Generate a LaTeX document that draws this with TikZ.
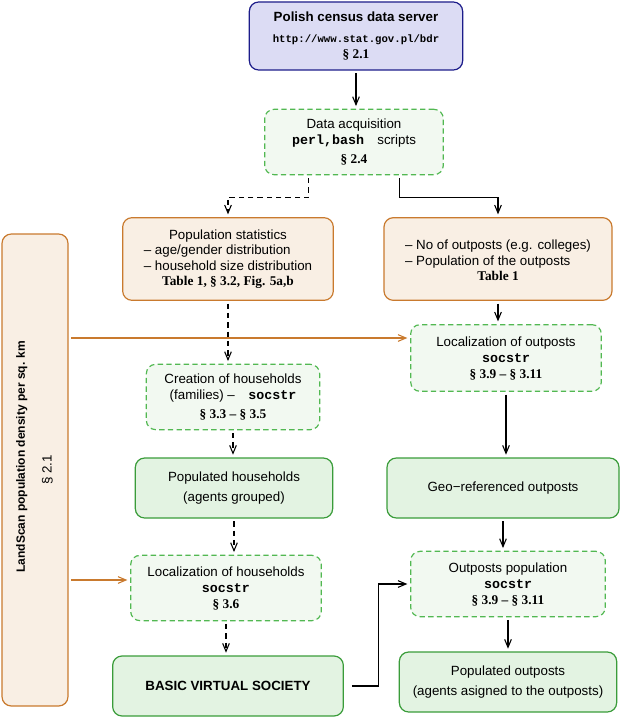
\documentclass[tikz,border=0pt]{standalone}
\usepackage{fontspec}
\usetikzlibrary{arrows.meta}
\setmainfont{Liberation Sans}
\setmonofont{Liberation Mono}
\newfontfamily\timesfont{Liberation Serif}
\newcommand{\secref}[1]{{\timesfont\bfseries #1}}
\definecolor{servfill}{HTML}{DCDCF4}
\definecolor{servline}{HTML}{1C1C8A}
\definecolor{datafill}{HTML}{F9EFE4}
\definecolor{dataline}{HTML}{C97A2E}
\definecolor{procfill}{HTML}{F2F9F1}
\definecolor{procline}{HTML}{52B852}
\definecolor{resfill}{HTML}{E3F3E2}
\definecolor{resline}{HTML}{3A9C3A}
\begin{document}
\begin{tikzpicture}[>={Straight Barb[length=6pt, width=5pt]}, x=0.75pt, y=-0.75pt,
		box/.style={rounded corners=7pt, line width=0.9pt, align=center, inner sep=2pt},
		server/.style={box, draw=servline, fill=servfill},
		datasrc/.style={box, draw=dataline, fill=datafill},
		procbox/.style={box, draw=procline, fill=procfill, dash pattern=on 4pt off 2.5pt},
		resbox/.style={box, draw=resline, fill=resfill},
		flow/.style={->, line width=0.8pt, shorten <=2pt, shorten >=2pt},
		dflow/.style={flow, dash pattern=on 4pt off 3pt},
		lflow/.style={flow, draw=dataline}]
		\useasboundingbox (0,0) rectangle (620,717);
		% sources
		\node[server, minimum width=160pt, minimum height=51pt] (server) at (356,36) {\textbf{Polish census data server}\\[4pt] {\footnotesize\ttfamily\bfseries http://www.stat.gov.pl/bdr}\\ \secref{§ 2.1}};
		\node[procbox, minimum width=134pt, minimum height=49pt] (acq) at (354,142) {Data acquisition\\ \texttt{\bfseries perl,bash}\quad scripts\\[2pt] \secref{§ 2.4}};
		\node[datasrc, minimum width=158pt, minimum height=62pt] (popstat) at (228,259) {Population statistics\\ \begin{tabular}{@{}l@{}}– age/gender distribution\\ – household size distribution\end{tabular}\\ \secref{Table 1, § 3.2, Fig. 5a,b}};
		\node[datasrc, minimum width=171pt, minimum height=62pt] (outstat) at (498,259) {\mbox{}\\ \begin{tabular}{@{}l@{}}– No of outposts (e.g. colleges)\\ – Population of the outposts\end{tabular}\\ \secref{Table 1}};
		\node[datasrc, minimum width=49.5pt, minimum height=354pt] (land) at (35,470) {\rotatebox{90}{\begin{tabular}{@{}c@{}}\hspace*{20pt}{\small\bfseries LandScan population density per sq. km}\\[8pt] § 2.1\end{tabular}}};
		% households
		\node[procbox, minimum width=130pt, minimum height=49pt] (create) at (233,397) {Creation of households\\ (families) –\quad\texttt{\bfseries socstr}\\[2pt] \secref{§ 3.3 – § 3.5}};
		\node[resbox, minimum width=148pt, minimum height=45pt] (pophh) at (234,488) {Populated households\\[3pt] (agents grouped)};
		\node[procbox, minimum width=143pt, minimum height=49pt] (lochh) at (226,588) {Localization of households\\ \texttt{\bfseries socstr}\\ \secref{§ 3.6}};
		\node[resbox, minimum width=173pt, minimum height=45pt] (bvs) at (228,686) {\textbf{BASIC VIRTUAL SOCIETY}};
		% outposts
		\node[procbox, minimum width=143pt, minimum height=50pt] (locout) at (506,358) {Localization of outposts\\ \texttt{\bfseries socstr}\\ \secref{§ 3.9 – § 3.11}};
		\node[resbox, minimum width=174pt, minimum height=45pt] (geo) at (503,488) {Geo−referenced outposts};
		\node[procbox, minimum width=146pt, minimum height=49pt] (outpop) at (508,584) {Outposts population\\ \texttt{\bfseries socstr}\\ \secref{§ 3.9 – § 3.11}};
		\node[resbox, minimum width=163pt, minimum height=45pt] (popout) at (508,682) {Populated outposts\\[3pt] (agents asigned to the outposts)};
		% connectors
		\draw[flow] (server.south) -- (server.south |- acq.north);
		\draw[dflow] ([xshift=-34pt]acq.south) -- ++(0,22) -| (popstat.north);
		\draw[flow] ([xshift=34pt]acq.south) -- ++(0,22) -| (outstat.north);
		\draw[dflow] (popstat.south) -- (popstat.south |- create.north);
		\coordinate (lsin) at ([yshift=15pt]locout.west);
		\draw[lflow] (lsin -| land.east) -- (lsin);
		\draw[flow] (outstat.south) -- (outstat.south |- locout.north);
		\draw[flow] (locout.south) -- (locout.south |- geo.north);
		\draw[dflow] (create.south) -- (create.south |- pophh.north);
		\draw[dflow] (pophh.south) -- (pophh.south |- lochh.north);
		\coordinate (lsintwo) at ([yshift=6pt]lochh.west);
		\draw[lflow] (lsintwo -| land.east) -- (lsintwo);
		\draw[dflow] (lochh.south) -- (lochh.south |- bvs.north);
		\draw[flow] (geo.south) -- (geo.south |- outpop.north);
		\draw[flow, shorten <=6pt] (bvs.east) -- ++(35,0) |- (outpop.west);
		\draw[flow] (outpop.south) -- (outpop.south |- popout.north);
\end{tikzpicture}
\end{document}
